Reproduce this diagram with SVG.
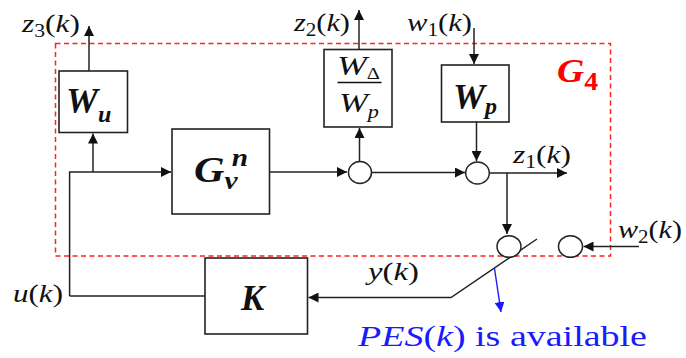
<svg xmlns="http://www.w3.org/2000/svg" width="686" height="358" viewBox="0 0 686 358">
<style>
text{font-family:'Liberation Serif','Times New Roman',serif}
.box{fill:#fff;stroke:#222;stroke-width:1.6}
.ln{fill:none;stroke:#222;stroke-width:1.5}
.sum{fill:#fff;stroke:#222;stroke-width:1.5}
.t{font-style:italic;fill:#111}
.b{font-style:italic;font-weight:bold;fill:#111}
.n{font-style:normal}
</style>
<defs>
<marker id="ah" viewBox="0 0 10 10" refX="10" refY="5" markerWidth="10" markerHeight="10" markerUnits="userSpaceOnUse" orient="auto">
<path d="M0,0 L10,5 L0,10 z" fill="#111"/>
</marker>
<marker id="ahb" viewBox="0 0 10 10" refX="10" refY="5" markerWidth="10" markerHeight="10" markerUnits="userSpaceOnUse" orient="auto">
<path d="M0,0 L10,5 L0,10 z" fill="#1a1aff"/>
</marker>
</defs>
<rect width="686" height="358" fill="#fff"/>
<g id="G4">
<rect x="55.5" y="43.5" width="555" height="212.5" fill="none" stroke="#f22" stroke-width="1.5" stroke-dasharray="5,3.5"/>
<text x="557" y="82" font-style="italic" font-weight="bold" font-size="34" fill="#f00" textLength="41" lengthAdjust="spacingAndGlyphs">G<tspan font-size="25" font-style="normal" dy="8">4</tspan></text>
</g>
<g id="connectors">
<path class="ln" d="M89,71 V26" marker-end="url(#ah)"/>
<path class="ln" d="M69.6,296 V172 H171" marker-end="url(#ah)"/>
<path class="ln" d="M93,172 V133.5" marker-end="url(#ah)"/>
<path class="ln" d="M270,172 H347" marker-end="url(#ah)"/>
<path class="ln" d="M359.5,161 V128" marker-end="url(#ah)"/>
<path class="ln" d="M359,49 V10" marker-end="url(#ah)"/>
<path class="ln" d="M474,28 V64" marker-end="url(#ah)"/>
<path class="ln" d="M476.5,122 V161" marker-end="url(#ah)"/>
<path class="ln" d="M371.5,172.5 H465" marker-end="url(#ah)"/>
<path class="ln" d="M489.5,173 H567" marker-end="url(#ah)"/>
<path class="ln" d="M507,173 V234" marker-end="url(#ah)"/>
<path class="ln" d="M639,246.5 H583.5" marker-end="url(#ah)"/>
<path class="ln" d="M537,239 L451,297.5 H308.5" marker-end="url(#ah)"/>
<path class="ln" d="M205,296 H69.6"/>
<path d="M494.5,268.5 L501,312" fill="none" stroke="#1a1aff" stroke-width="1.4" marker-end="url(#ahb)"/>
</g>
<g id="Wu">
<rect class="box" x="59" y="71" width="68.5" height="61.5"/>
<text class="b" x="66" y="113" font-size="36">W<tspan font-size="24" dy="9">u</tspan></text>
</g>
<g id="Gvn">
<rect class="box" x="172" y="129" width="97.5" height="85"/>
<text class="b" x="194" y="182" font-size="36" textLength="54" lengthAdjust="spacingAndGlyphs">G<tspan font-size="25" dy="7">v</tspan><tspan font-size="25" dx="-5" dy="-23">n</tspan></text>
</g>
<g id="WdWp">
<rect class="box" x="324" y="49.5" width="68" height="77.5"/>
<text class="t" x="337" y="75" font-size="28" textLength="43" lengthAdjust="spacingAndGlyphs">W<tspan class="n" font-size="16" dy="4">Δ</tspan></text>
<line x1="337.5" y1="82.5" x2="381.5" y2="82.5" stroke="#111" stroke-width="1.4"/>
<text class="t" x="339" y="112" font-size="28" textLength="40" lengthAdjust="spacingAndGlyphs">W<tspan font-size="18" dy="6">p</tspan></text>
</g>
<g id="Wp">
<rect class="box" x="441.5" y="65" width="67.5" height="57"/>
<text class="b" x="453" y="109" font-size="36">W<tspan font-size="24" dy="5">p</tspan></text>
</g>
<g id="K">
<rect class="box" x="205" y="258" width="102.5" height="76"/>
<text class="b" x="241" y="310" font-size="35">K</text>
</g>
<g id="sum1"><ellipse class="sum" cx="360" cy="172.5" rx="11.5" ry="11"/></g>
<g id="sum2"><ellipse class="sum" cx="477.5" cy="173" rx="11.8" ry="11"/></g>
<g id="sum3"><ellipse class="sum" cx="509" cy="246.5" rx="12" ry="10.8"/></g>
<g id="sum4"><ellipse class="sum" cx="570.5" cy="246.5" rx="12" ry="10.8"/></g>
<g id="labels">
<text class="t" x="22" y="32" font-size="26" textLength="58" lengthAdjust="spacingAndGlyphs">z<tspan class="n" font-size="18" dy="5">3</tspan><tspan class="n" dy="-5">(</tspan>k<tspan class="n">)</tspan></text>
<text class="t" x="294" y="31" font-size="26" textLength="56" lengthAdjust="spacingAndGlyphs">z<tspan class="n" font-size="18" dy="5">2</tspan><tspan class="n" dy="-5">(</tspan>k<tspan class="n">)</tspan></text>
<text class="t" x="407" y="31" font-size="26" textLength="65" lengthAdjust="spacingAndGlyphs">w<tspan class="n" font-size="18" dy="5">1</tspan><tspan class="n" dy="-5">(</tspan>k<tspan class="n">)</tspan></text>
<text class="t" x="513" y="163" font-size="26" textLength="58" lengthAdjust="spacingAndGlyphs">z<tspan class="n" font-size="18" dy="5">1</tspan><tspan class="n" dy="-5">(</tspan>k<tspan class="n">)</tspan></text>
<text class="t" x="618" y="238" font-size="26" textLength="64" lengthAdjust="spacingAndGlyphs">w<tspan class="n" font-size="18" dy="5">2</tspan><tspan class="n" dy="-5">(</tspan>k<tspan class="n">)</tspan></text>
<text class="t" x="368" y="280" font-size="26" textLength="51" lengthAdjust="spacingAndGlyphs">y<tspan class="n">(</tspan>k<tspan class="n">)</tspan></text>
<text class="t" x="13" y="302" font-size="26" textLength="50" lengthAdjust="spacingAndGlyphs">u<tspan class="n">(</tspan>k<tspan class="n">)</tspan></text>
<text x="358" y="346" font-size="29" fill="#1a1aff" textLength="289" lengthAdjust="spacingAndGlyphs"><tspan font-style="italic">PES</tspan>(<tspan font-style="italic">k</tspan>) is available</text>
</g>
</svg>
